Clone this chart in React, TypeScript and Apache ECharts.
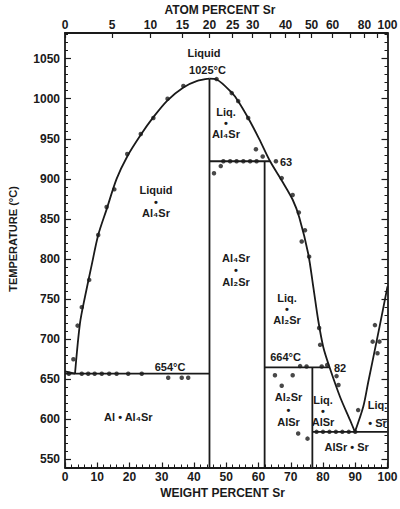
import React, { useEffect, useRef } from "react";
import * as echarts from "echarts";

// ---- axis tick values ----
const atomTickValues = [0, 5, 10, 15, 20, 25, 30, 35, 40, 45, 50, 60, 70, 80, 90, 100];
const atomLabelValues = [0, 5, 10, 15, 20, 25, 30, 40, 50, 60, 80, 100];
const tempLabelValues = [550, 600, 650, 700, 750, 800, 850, 900, 950, 1000, 1050];

// ---- phase boundary lines (weight % Sr, °C) ----
const alSideLine = [[0, 660], [3.1, 657]];
const liquidusLeft = [
  [3.1, 657], [4.65, 720], [6.2, 753], [8.3, 793], [10.3, 830], [12.9, 862], [16, 900],
  [19.3, 928], [23.5, 955], [27.4, 977], [31.8, 998], [36.7, 1014], [40.8, 1022], [44.8, 1025],
];
const liquidusRight = [
  [44.8, 1025], [47, 1024], [51.7, 1007.5], [53.7, 997], [56.8, 976], [60.2, 950], [63.6, 922],
  [67.2, 898], [70.6, 874], [72.65, 852], [75.4, 807], [77, 765], [78.5, 724], [80.1, 690],
  [81.95, 666], [85.3, 628], [88.4, 599], [89.9, 584.5],
];
const liquidusSr = [[89.9, 584.5], [92.5, 616], [94, 646], [96.6, 697], [98.5, 735], [100, 766]];
const eutecticAl = [[0, 657], [44.8, 657]];
const al4SrLine = [[44.8, 540], [44.8, 1025]];
const peritectic922 = [[44.8, 922], [63.6, 922]];
const al2SrLine = [[61.9, 540], [61.9, 922]];
const peritectic664 = [[61.9, 665], [81.9, 665]];
const alSrLine = [[76.7, 540], [76.7, 665]];
const eutecticSr = [[76.7, 584.5], [100, 584.5]];

// ---- measured points ----
const measuredPoints = [
  // Al4Sr liquidus (left)
  [2.6, 675], [3.9, 717], [5.2, 740], [7.5, 774], [10.3, 830], [12.9, 865], [15.3, 887],
  [19.3, 931], [23.5, 956], [27.4, 976], [31.8, 1000], [36.7, 1016],
  // 654 eutectic
  [1.2, 657], [5.2, 657], [7.2, 657], [9.2, 657], [11.4, 657], [13.7, 657], [16.0, 657],
  [19.6, 657], [23.8, 657], [32, 652], [36.2, 652], [38.2, 652],
  // right liquidus
  [47, 1024.5], [51.7, 1007], [53.7, 997], [56.8, 976], [59.2, 937], [61.3, 928], [65.4, 922],
  [67.2, 901], [70.6, 880], [72.5, 858], [74.4, 836], [73.4, 822], [75.7, 803], [78.8, 714],
  [79.1, 693], [81.3, 668],
  // 922 peritectic
  [46.2, 907], [48.3, 916], [49.1, 922], [51.2, 922], [53.2, 922], [55.3, 922], [57.4, 922], [59.4, 922],
  // 664 peritectic region
  [65.1, 655], [70.6, 655], [67.2, 642], [72.9, 666.5], [74.9, 666], [79.6, 666],
  [72.3, 582.5], [75.2, 576], [84.2, 654], [84.8, 643],
  // Sr side eutectic
  [78, 584.5], [80, 584.5], [82, 584.5], [84, 584.5], [86, 584.5], [88, 584.5], [90, 584.5],
  [90.9, 611.6], [95.4, 697], [97.5, 697], [96.9, 682.5], [96.1, 717.6],
];

// ---- region labels (pixel anchored) ----
const regionLabels: { t: string; x: number; y: number; a?: string; lh?: number }[] = [
  { t: "Liquid", x: 204, y: 52.5 },
  { t: "1025°C", x: 207.5, y: 70 },
  { t: "Liq.\n•\nAl₄Sr", x: 226, y: 122.5, lh: 11 },
  { t: "63", x: 280, y: 161.7, a: "left" },
  { t: "Liquid\n•\nAl₄Sr", x: 156, y: 201.7, lh: 11.7 },
  { t: "Al₄Sr\n•\nAl₂Sr", x: 236, y: 270, lh: 11.7 },
  { t: "Liq.\n•\nAl₂Sr", x: 287, y: 309, lh: 11 },
  { t: "664°C", x: 285.5, y: 356.7 },
  { t: "654°C", x: 170, y: 366.7 },
  { t: "82", x: 334, y: 368, a: "left" },
  { t: "Al₂Sr\n•\nAlSr", x: 288.5, y: 409.5, lh: 12.5 },
  { t: "Liq.\n•\nAlSr", x: 323, y: 411, lh: 11 },
  { t: "Liq.\n• Sr", x: 377.5, y: 414, lh: 17.7 },
  { t: "AlSr • Sr", x: 346.7, y: 446.7 },
  { t: "Al • Al₄Sr", x: 128.3, y: 416.7 },
];

const INK = "#1a1a1a";
const FONT_FAMILY = '"Liberation Sans", Arial, Helvetica, sans-serif';

function atToWt(a: number): number {
  const sr = a * 87.62;
  const al = (100 - a) * 26.98;
  return (sr / (sr + al)) * 100;
}

export default function App() {
  const ref = useRef<HTMLDivElement>(null);
  useEffect(() => {
    if (!ref.current) return;
    const chart = echarts.init(ref.current, undefined, { renderer: "svg" });

    const lineSeries = (data: number[][], smooth: number | boolean = false) => ({
      type: "line",
      data,
      smooth,
      symbol: "none",
      xAxisIndex: 0,
      yAxisIndex: 0,
      lineStyle: { color: INK, width: 1.8 },
      silent: true,
      z: 3,
    });

    const atomWtTicks = atomTickValues.map(atToWt);
    const atomWtLabels = atomLabelValues.map(atToWt);

    const labelStyle = { color: INK, fontSize: 12, fontWeight: "bold" as const, fontFamily: FONT_FAMILY };

    const yCommon = { type: "value", min: 540, max: 1082, interval: 10, splitLine: { show: false } };

    chart.setOption({
      animation: false,
      backgroundColor: "#ffffff",
      grid: { left: 65, right: 12.5, top: 33, bottom: 41.5, containLabel: false, outerBoundsMode: "none" },
      xAxis: [
        {
          type: "value",
          position: "bottom",
          min: 0,
          max: 100,
          interval: 10,
          axisLine: { show: true, lineStyle: { color: INK, width: 1.8 } },
          axisTick: { show: true, inside: true, length: 5, lineStyle: { color: INK, width: 1.2 } },
          minorTick: { show: true, splitNumber: 5, length: 3, lineStyle: { color: INK, width: 1 } },
          axisLabel: { ...labelStyle, margin: 3 },
          splitLine: { show: false },
        },
        {
          type: "value",
          position: "top",
          min: 0,
          max: 100,
          axisLine: { show: true, lineStyle: { color: INK, width: 1.8 } },
          axisTick: {
            show: true,
            inside: true,
            length: 5,
            customValues: atomWtTicks,
            lineStyle: { color: INK, width: 1.2 },
          },
          axisLabel: {
            ...labelStyle,
            margin: 2,
            customValues: atomWtLabels,
            formatter: (v: number) => {
              let best = 0;
              let bd = Infinity;
              atomLabelValues.forEach((a) => {
                const d = Math.abs(atToWt(a) - v);
                if (d < bd) {
                  bd = d;
                  best = a;
                }
              });
              return String(best);
            },
          },
          splitLine: { show: false },
        },
      ],
      yAxis: [
        {
          ...yCommon,
          position: "left",
          axisLine: { show: true, lineStyle: { color: INK, width: 1.8 } },
          axisTick: { show: true, inside: true, length: 3, lineStyle: { color: INK, width: 1 } },
          axisLabel: {
            ...labelStyle,
            margin: 5,
            customValues: tempLabelValues,
            formatter: (v: number) => String(v),
          },
        },
        {
          ...yCommon,
          position: "left",
          axisLine: { show: false },
          axisTick: {
            show: true,
            inside: true,
            length: 6,
            customValues: tempLabelValues,
            lineStyle: { color: INK, width: 1.2 },
          },
          axisLabel: { show: false },
        },
        {
          ...yCommon,
          position: "right",
          axisLine: { show: true, lineStyle: { color: INK, width: 1.8 } },
          axisTick: { show: true, inside: true, length: 3, lineStyle: { color: INK, width: 1 } },
          axisLabel: { show: false },
        },
        {
          ...yCommon,
          position: "right",
          axisLine: { show: false },
          axisTick: {
            show: true,
            inside: true,
            length: 6,
            customValues: tempLabelValues,
            lineStyle: { color: INK, width: 1.2 },
          },
          axisLabel: { show: false },
        },
      ],
      series: [
        lineSeries(alSideLine),
        lineSeries(liquidusLeft, 0.3),
        lineSeries(liquidusRight, 0.3),
        lineSeries(liquidusSr, 0.3),
        lineSeries(eutecticAl),
        lineSeries(al4SrLine),
        lineSeries(peritectic922),
        lineSeries(al2SrLine),
        lineSeries(peritectic664),
        lineSeries(alSrLine),
        lineSeries(eutecticSr),
        {
          type: "scatter",
          data: measuredPoints,
          xAxisIndex: 0,
          yAxisIndex: 0,
          symbol: "circle",
          symbolSize: 4.5,
          itemStyle: { color: INK },
          silent: true,
          z: 4,
        },
      ],
      graphic: [
        {
          type: "text",
          x: 220,
          y: 10,
          style: {
            text: "ATOM PERCENT Sr",
            font: `bold 12px ${FONT_FAMILY}`,
            fill: INK,
            align: "center",
            verticalAlign: "middle",
          },
        },
        {
          type: "text",
          x: 222.5,
          y: 493,
          style: {
            text: "WEIGHT PERCENT Sr",
            font: `bold 12px ${FONT_FAMILY}`,
            fill: INK,
            align: "center",
            verticalAlign: "middle",
          },
        },
        {
          type: "text",
          x: 13,
          y: 239,
          rotation: Math.PI / 2,
          style: {
            text: "TEMPERATURE (°C)",
            font: `bold 11px ${FONT_FAMILY}`,
            fill: INK,
            align: "center",
            verticalAlign: "middle",
          },
        },
        ...regionLabels.map((l) => ({
          type: "text",
          x: l.x,
          y: l.y,
          z: 10,
          style: {
            text: l.t,
            font: `bold 11px ${FONT_FAMILY}`,
            fill: INK,
            align: l.a || "center",
            verticalAlign: "middle",
            lineHeight: l.lh || 13,
          },
        })),
      ],
    });
    return () => chart.dispose();
  }, []);
  return <div ref={ref} style={{ width: 400, height: 509, position: "absolute", left: 0, top: 0 }} />;
}
